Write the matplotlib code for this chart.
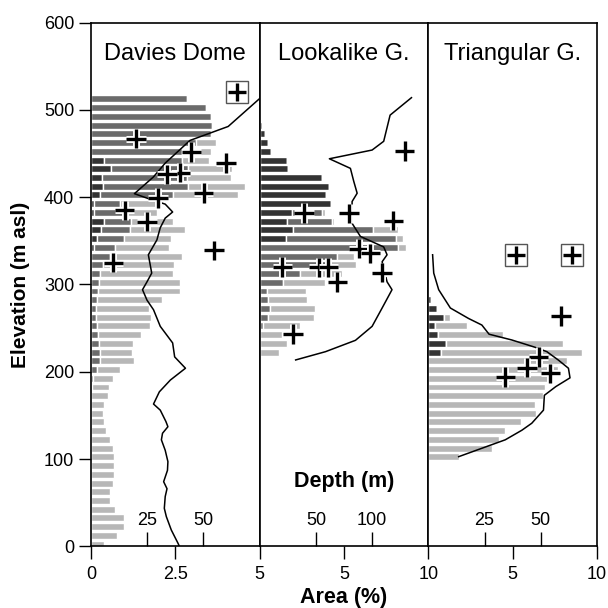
import numpy as np
import matplotlib
matplotlib.use("Agg")
import matplotlib.pyplot as plt
import matplotlib.patheffects as pe

plt.rcParams['font.family'] = ['Liberation Sans', 'DejaVu Sans']

# ---- Davies Dome: area (%) per 10 m elevation bin (0..510 m)
dd_bins = np.arange(0, 520, 10)
dd_dark = [0]*34 + [0.10, 0.17, 0.30, 0.39, 0.10, 0.10, 0.27, 0.37, 0.34, 0.58, 0.39] + [0]*7
dd_mid = [0]*18 + [0.04, 0.07, 0.17, 0.26, 0.26, 0.24, 0.20, 0.17, 0.15, 0.16, 0.19, 0.20,
                   0.24, 0.27, 0.37, 0.55, 0.60, 0.80, 0.85, 0.80, 0.85, 0.75, 2.15, 2.50,
                   2.50, 2.30, 2.30, 2.70, 3.10, 3.55, 3.60, 3.57, 3.40, 2.85]
dd_light = [0.38, 0.78, 0.98, 0.98, 0.72, 0.55, 0.57, 0.64, 0.67, 0.69, 0.67, 0.65, 0.57,
            0.44, 0.40, 0.37, 0.40, 0.49, 0.48, 0.57, 0.68, 1.00, 0.97, 1.00, 1.28, 1.58,
            1.63, 1.57, 1.90, 2.45, 2.40, 2.15, 2.10, 2.15, 1.60, 1.40, 1.65, 1.25, 1.00,
            1.20, 1.95, 1.70, 1.30, 1.30, 0.80, 0.85, 0.60, 0, 0, 0, 0, 0]

# ---- Lookalike Glacier (220..480 m)
lk_bins = np.arange(220, 490, 10)
lk_dark = [0]*13 + [1.54, 1.97, 1.64, 1.90, 4.20, 3.94, 4.14, 3.67, 1.68, 1.64, 0.69, 0.50, 0.30, 0.16]
lk_mid = [0, 0, 0, 0.20, 0.50, 0.60, 0.50, 0.45, 1.38, 2.40, 4.10, 4.60, 8.20, 6.57, 4.73,
          2.66, 1.80] + [0]*10
lk_light = [1.15, 1.64, 1.35, 2.20, 2.75, 2.70, 2.30, 2.30, 2.50, 2.50, 1.60, 1.00, 0.45,
            0.40, 1.50, 0.10, 0.20] + [0]*10

# ---- Triangular Glacier (100..290 m)
tr_bins = np.arange(100, 300, 10)
tr_dark = [0]*12 + [0.73, 1.05, 0.55, 0.40, 0.90, 0.50, 0.18, 0.06]
tr_mid = [0]*20
tr_light = [1.8, 3.8, 4.2, 4.55, 5.5, 6.4, 6.3, 6.8, 6.9, 7.3, 7.7, 8.2, 8.4, 6.95, 3.85,
            1.9, 0.36, 0, 0, 0]

# ---- depth profiles (m) vs elevation (m asl)
dd_depth = [75, 61, 44, 33, 27.7, 19.3, 24.8, 33, 36.3, 33, 30.8, 29.3, 25.5, 27, 24.9, 22.9,
            24.9, 27.8, 30.8, 36.3, 37.2, 42, 35.3, 30.4, 27.8, 30.8, 33.3, 34.2, 31.8, 31.3,
            33, 34.2, 34, 32.3, 33.8, 33, 32.6, 33.5, 35.7, 38.7, 39.3]
dd_delev = [513, 481, 465, 439, 423, 404, 399, 392, 383, 376, 365, 351, 334, 313, 303, 294,
            282, 271, 252, 233, 217, 204, 190.5, 177, 163, 156, 143, 137, 129.5, 122,
            110, 97, 87, 74, 66, 57, 43.5, 34, 18.7, 3.4, 0]
lk_depth = [135, 116, 110.3, 100, 62, 80.7, 83.7, 86.7, 82.2, 82.2, 89.6, 110.3, 113.3, 108.9,
            113.3, 117.7, 108.9, 100, 85.2, 58.6, 32]
lk_delev = [514, 494, 464, 454, 444, 433, 418, 404.5, 395, 370, 355, 343, 334, 326,
            303, 294, 273, 252, 236, 223, 213.5]
tr_depth = [1.9, 2.4, 4.6, 9.8, 17.9, 23.8, 27, 37.1, 47.5, 52.7, 57.8, 62.3, 63, 56.7, 51.6,
            51.2, 46, 41.6, 34.2, 13.5]
tr_delev = [334, 313, 294, 273, 261, 253.5, 243, 236.4, 228, 223, 213.4, 204, 193, 183, 173,
            156, 141, 133, 122, 102.7]

# ---- point depths (crosses); boxed ones separately
dd_pt_depth = [20.0, 44.6, 60.1, 39.7, 33.8, 50.1, 29.8, 14.9, 24.9, 54.6, 10.0]
dd_pt_elev = [467, 452, 439, 428, 426, 405, 399, 385, 372, 339, 325]
dd_box_depth = [65.0]
dd_box_elev = [521]
lk_pt_depth = [129, 39.3, 79.3, 119, 88.1, 98.5, 20.1, 52.6, 61, 69, 108.9, 29.6]
lk_pt_elev = [453, 382, 381.5, 373, 341, 335.7, 320, 319.6, 319.6, 303, 313.5, 243]
lk_box_depth = []
lk_box_elev = []
tr_pt_depth = [59, 49, 43.8, 54.2, 34.2]
tr_pt_elev = [264, 217, 204.7, 198, 194]
tr_box_depth = [38.9, 63.8]
tr_box_elev = [334, 334]

titles = ["Davies Dome", "Lookalike G.", "Triangular G."]
area_max = [5, 10, 10]
area_ticks = [[0, 2.5, 5], [5, 10], [5, 10]]
area_labels = [["0", "2.5", "5"], ["5", "10"], ["5", "10"]]
depth_max = [75, 150, 75]
depth_ticks = [[25, 50], [50, 100], [25, 50]]

c_dark, c_mid, c_light = "#333333", "#6b6b6b", "#b7b7b7"

fig = plt.figure(figsize=(6.08, 6.08), dpi=100)
L, R = 91 / 608, 597 / 608
B, T = 1 - 546.3 / 608, 1 - 22.6 / 608
w = (R - L) / 3

panels = [
    (dd_bins, dd_dark, dd_mid, dd_light, dd_depth, dd_delev, dd_pt_depth, dd_pt_elev, dd_box_depth, dd_box_elev),
    (lk_bins, lk_dark, lk_mid, lk_light, lk_depth, lk_delev, lk_pt_depth, lk_pt_elev, lk_box_depth, lk_box_elev),
    (tr_bins, tr_dark, tr_mid, tr_light, tr_depth, tr_delev, tr_pt_depth, tr_pt_elev, tr_box_depth, tr_box_elev),
]

halo = [pe.withStroke(linewidth=5, foreground="white")]

for i, (bins, dk, md, lt, dep, delev, pdep, pelev, bdep, belev) in enumerate(panels):
    ax = fig.add_axes([L + i * w, B, w, T - B])
    y = bins + 2.5
    dk, md, lt = np.array(dk), np.array(md), np.array(lt)
    kw = dict(height=8, edgecolor="white", linewidth=1)
    ax.barh(y, dk, color=c_dark, **kw)
    ax.barh(y, md, left=dk, color=c_mid, **kw)
    ax.barh(y, lt, left=dk + md, color=c_light, **kw)
    ax.set_xlim(0, area_max[i])
    ax.set_ylim(0, 600)
    ax.set_xticks(area_ticks[i])
    ax.set_xticklabels(area_labels[i])
    ax.tick_params(axis="x", direction="out", length=9, width=1, labelsize=13, pad=5)
    if i == 0:
        ax.set_yticks(np.arange(0, 601, 100))
        ax.tick_params(axis="y", direction="out", length=9, width=1, labelsize=13, pad=3)
    else:
        ax.set_yticks([])
    for s in ax.spines.values():
        s.set_linewidth(1.2)
    ax.text(0.5, 0.94, titles[i], transform=ax.transAxes, ha="center", va="center", fontsize=17)

    tw = ax.twiny()
    tw.set_xlim(0, depth_max[i])
    tw.set_ylim(0, 600)
    tw.xaxis.set_ticks_position("bottom")
    tw.set_xticks(depth_ticks[i])
    tw.tick_params(axis="x", direction="in", length=10, width=1, labelsize=13, pad=-25)
    for s in tw.spines.values():
        s.set_visible(False)
    tw.plot(dep, delev, color="black", lw=1.1)
    if bdep:
        tw.plot(bdep, belev, ls="none", marker="s", ms=16, mfc="white", mec="#555555", mew=1)
        tw.plot(bdep, belev, ls="none", marker="+", ms=13, mew=2.4, color="black")
    tw.plot(pdep, pelev, ls="none", marker="+", ms=14, mew=2.4, color="black", path_effects=halo)

fig.text(L + 1.5 * w, B + 0.1228 * (T - B), "Depth (m)", ha="center", va="center",
         fontsize=15.5, fontweight="bold")
fig.text(L + 1.5 * w, 11 / 608, "Area (%)", ha="center", va="center", fontsize=15.5, fontweight="bold")
fig.text(20.5 / 608, (B + T) / 2, "Elevation (m asl)", ha="center", va="center", rotation=90,
         fontsize=15, fontweight="bold")

fig.savefig("out.png", dpi=100)
